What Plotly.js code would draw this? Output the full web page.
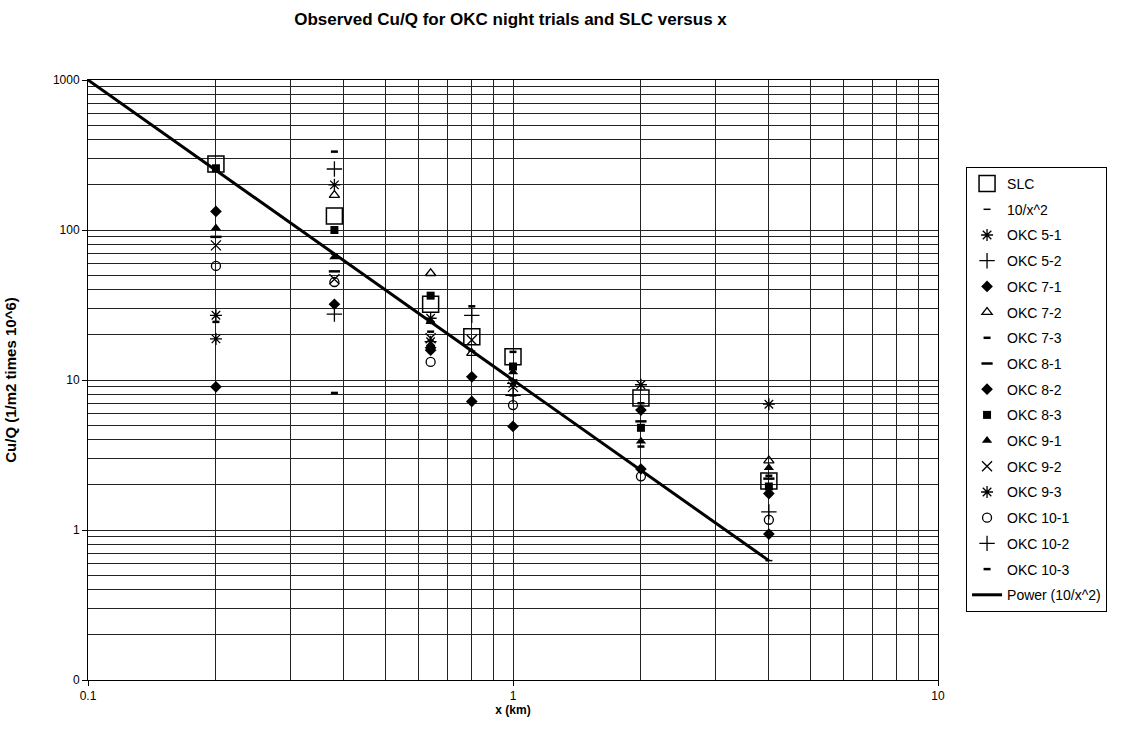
<!DOCTYPE html>
<html>
<head>
<meta charset="utf-8">
<script src="https://cdn.plot.ly/plotly-3.0.1.min.js"></script>
<style>html,body{margin:0;padding:0;background:#fff;}#chart{width:1122px;height:745px;}</style>
</head>
<body>
<div id="chart"></div>
<script>
// Distances (km)
const distances = [0.2, 0.38, 0.64, 0.8, 1, 2, 4];

// Observed Cu/Q values (1/m2 times 10^6), null where no observation
const slc     = [275, 124, 32, 19.4, 14.3, 7.6, 2.12];
const tenOverX2 = [250, 69, 24.4, 15.6, 10, 2.5, 0.625];
const okc5_1  = [18.8, 200, 25.8, null, null, 9.3, null];
const okc5_2  = [null, 255, null, null, null, null, null];
const okc7_1  = [133, 32, 16.4, 10.5, null, 6.3, 1.75];
const okc7_2  = [null, 171, 51.5, 15.1, null, null, 2.9];
const okc7_3  = [null, 333, 21, null, 15.4, 7.0, 2.3];
const okc8_1  = [90, 53, null, null, null, 5.3, 2.2];
const okc8_2  = [9.0, null, 15.8, 7.2, 4.9, 2.55, 0.94];
const okc8_3  = [258, 100, 36.5, null, 12.3, 4.8, 1.95];
const okc9_1  = [103, 66, 24.5, null, 11.3, 3.9, 2.6];
const okc9_2  = [79, 47, 19, 18.5, 9.0, null, null];
const okc9_3  = [27, null, 18, null, 9.5, null, 6.9];
const okc10_1 = [57.6, 45, 13.2, null, 6.8, 2.28, 1.17];
const okc10_2 = [null, 27.5, null, 27, 7.9, null, 1.32];
const okc10_3 = [24.4, 8.2, null, 31, 7.9, 3.6, null];

// Power trendline (10/x^2) end points
const trendX = [0.1, 4];
const trendY = [1000, 0.625];

const seriesNames = ["SLC","10/x^2","OKC 5-1","OKC 5-2","OKC 7-1","OKC 7-2","OKC 7-3","OKC 8-1","OKC 8-2","OKC 8-3","OKC 9-1","OKC 9-2","OKC 9-3","OKC 10-1","OKC 10-2","OKC 10-3"];
const seriesValues = [slc, tenOverX2, okc5_1, okc5_2, okc7_1, okc7_2, okc7_3, okc8_1, okc8_2, okc8_3, okc9_1, okc9_2, okc9_3, okc10_1, okc10_2, okc10_3];

const yTickVals = [0.1, 1, 10, 100, 1000];
const yTickText = ["0", "1", "10", "100", "1000"];
const xTickVals = [0.1, 1, 10];
const xTickText = ["0.1", "1", "10"];

const markerStyles = [
  {symbol: "square-open", size: 16, line: {width: 1.5, color: "#000"}},
  {symbol: "line-ew", size: 5, line: {width: 1.5, color: "#000"}},
  {symbol: "asterisk", size: 10, line: {width: 1.3, color: "#000"}},
  {symbol: "cross-thin", size: 11, line: {width: 1.3, color: "#000"}},
  {symbol: "diamond", size: 9, line: {width: 0}},
  {symbol: "triangle-up-open", size: 9, line: {width: 1.3, color: "#000"}},
  {symbol: "line-ew", size: 5, line: {width: 2.5, color: "#000"}},
  {symbol: "line-ew", size: 8, line: {width: 2.5, color: "#000"}},
  {symbol: "diamond", size: 9, line: {width: 0}},
  {symbol: "square", size: 8, line: {width: 0}},
  {symbol: "triangle-up", size: 9, line: {width: 0}},
  {symbol: "x-thin", size: 10, line: {width: 1.3, color: "#000"}},
  {symbol: "asterisk", size: 10, line: {width: 1.3, color: "#000"}},
  {symbol: "circle-open", size: 9, line: {width: 1.3, color: "#000"}},
  {symbol: "cross-thin", size: 11, line: {width: 1.3, color: "#000"}},
  {symbol: "line-ew", size: 5, line: {width: 2.5, color: "#000"}}
];

const traces = seriesNames.map((name, i) => ({
  type: "scatter",
  mode: "markers",
  name: name,
  legendgroup: name,
  x: distances,
  y: seriesValues[i],
  marker: Object.assign({color: "#000"}, markerStyles[i]),
  cliponaxis: false
}));

traces.push({
  type: "scatter",
  mode: "lines",
  name: "Power (10/x^2)",
  legendgroup: "power",
  x: trendX,
  y: trendY,
  line: {color: "#000", width: 3}
});

const font = "Liberation Sans, Arial, sans-serif";
const gridCol = "#222";

const layout = {
  width: 1122,
  height: 745,
  paper_bgcolor: "#fff",
  plot_bgcolor: "#fff",
  margin: {l: 88, r: 184, t: 80, b: 65},
  font: {family: font, size: 12, color: "#000"},
  title: {
    text: "Observed Cu/Q for OKC night trials and SLC versus x",
    font: {family: font, size: 17, weight: "bold", color: "#000"},
    x: 0.455, xanchor: "center", y: 0.974, yanchor: "middle"
  },
  xaxis: {
    type: "log",
    range: [-1, 1],
    tickmode: "array",
    tickvals: xTickVals,
    ticktext: xTickText,
    ticks: "outside",
    ticklen: 5,
    tickcolor: "#000",
    showgrid: true,
    gridcolor: gridCol,
    gridwidth: 1,
    minor: {dtick: "D1", showgrid: true, gridcolor: gridCol, gridwidth: 1, ticks: ""},
    showline: true,
    linecolor: "#000",
    linewidth: 1,
    mirror: true,
    zeroline: false,
    tickfont: {family: font, size: 12},
    title: {text: "x (km)", font: {family: font, size: 12, weight: "bold"}, standoff: 0}
  },
  yaxis: {
    type: "log",
    range: [-1, 3],
    tickmode: "array",
    tickvals: yTickVals,
    ticktext: yTickText,
    ticks: "outside",
    ticklen: 5,
    tickcolor: "#000",
    showgrid: true,
    gridcolor: gridCol,
    gridwidth: 1,
    minor: {dtick: "D1", showgrid: true, gridcolor: gridCol, gridwidth: 1, ticks: ""},
    showline: true,
    linecolor: "#000",
    linewidth: 1,
    mirror: true,
    zeroline: false,
    tickfont: {family: font, size: 12},
    title: {text: "Cu/Q (1/m2 times 10^6)", font: {family: font, size: 15, weight: "bold"}, standoff: 32}
  },
  legend: {
    x: 1.033, xanchor: "left",
    y: 0.855, yanchor: "top",
    bordercolor: "#000",
    borderwidth: 1,
    bgcolor: "#fff",
    font: {family: font, size: 14},
    tracegroupgap: 4.5,
    itemsizing: "trace"
  },
  showlegend: true
};

Plotly.newPlot("chart", traces, layout, {displayModeBar: false, staticPlot: true});
</script>
</body>
</html>
